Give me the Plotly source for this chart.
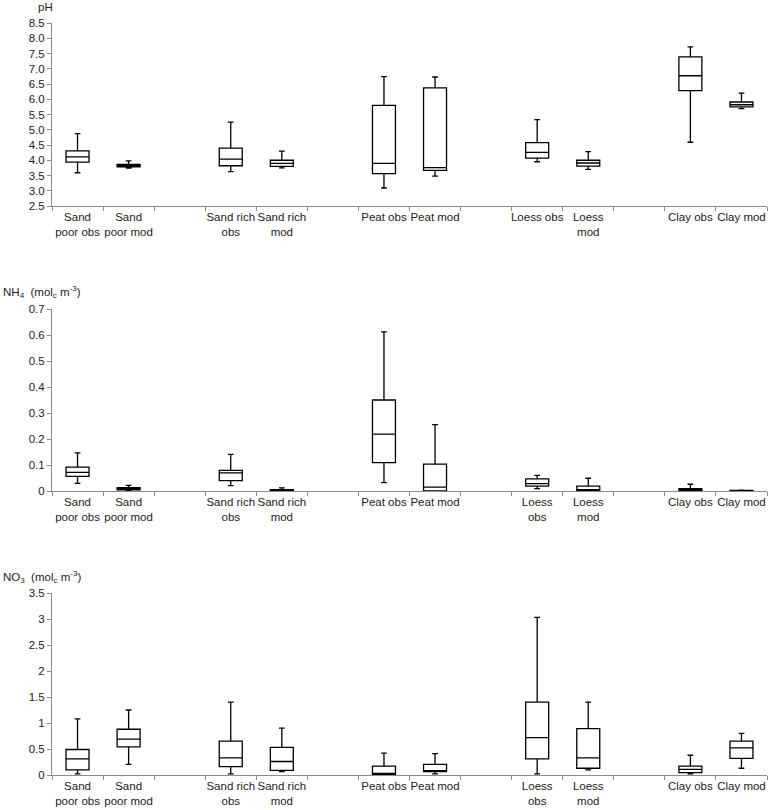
import plotly.graph_objects as go

# category slots (blank slots separate the soil groups)
categories = ["Sand<br>poor obs", "Sand<br>poor mod", " ",
              "Sand rich<br>obs", "Sand rich<br>mod", "  ",
              "Peat obs", "Peat mod", "   ",
              "Loess obs", "Loess<br>mod", "    ",
              "Clay obs", "Clay mod"]
boxes = ["Sand<br>poor obs", "Sand<br>poor mod", "Sand rich<br>obs", "Sand rich<br>mod",
         "Peat obs", "Peat mod", "Loess obs", "Loess<br>mod", "Clay obs", "Clay mod"]
# NH4 / NO3 panels use slightly different wrapping
boxes_nh4 = ["Sand<br>poor obs", "Sand<br>poor mod", "Sand rich<br>obs", "Sand rich<br>mod",
             "Peat obs", "Peat mod", "Loess<br>obs", "Loess<br>mod", "Clay obs", "Clay mod"]
categories_nh4 = ["Sand<br>poor obs", "Sand<br>poor mod", " ",
                  "Sand rich<br>obs", "Sand rich<br>mod", "  ",
                  "Peat obs", "Peat mod", "   ",
                  "Loess<br>obs", "Loess<br>mod", "    ",
                  "Clay obs", "Clay mod"]

# pH
ph_low = [3.59, 3.74, 3.63, 3.75, 3.09, 3.48, 3.95, 3.70, 4.59, 5.69]
ph_q1 = [3.94, 3.78, 3.82, 3.80, 3.56, 3.67, 4.07, 3.81, 6.28, 5.75]
ph_med = [4.11, 3.81, 4.04, 3.90, 3.90, 3.76, 4.26, 3.91, 6.77, 5.82]
ph_q3 = [4.31, 3.86, 4.40, 4.00, 5.80, 6.37, 4.58, 4.00, 7.39, 5.91]
ph_high = [4.87, 3.98, 5.25, 4.30, 6.74, 6.73, 5.33, 4.28, 7.72, 6.20]

# NH4
nh4_low = [0.029, 0.001, 0.021, 0.0, 0.032, 0.0, 0.009, 0.0, 0.0, 0.0]
nh4_q1 = [0.056, 0.004, 0.040, 0.001, 0.109, 0.0, 0.019, 0.001, 0.001, 0.0]
nh4_med = [0.072, 0.009, 0.070, 0.003, 0.219, 0.015, 0.028, 0.003, 0.004, 0.001]
nh4_q3 = [0.092, 0.013, 0.079, 0.005, 0.350, 0.103, 0.047, 0.019, 0.009, 0.002]
nh4_high = [0.147, 0.022, 0.141, 0.012, 0.612, 0.255, 0.060, 0.049, 0.026, 0.003]

# NO3
no3_low = [0.02, 0.205, 0.02, 0.065, 0.005, 0.02, 0.02, 0.10, 0.02, 0.13]
no3_q1 = [0.10, 0.54, 0.16, 0.09, 0.013, 0.064, 0.31, 0.13, 0.045, 0.32]
no3_med = [0.31, 0.69, 0.33, 0.26, 0.02, 0.077, 0.72, 0.33, 0.11, 0.52]
no3_q3 = [0.49, 0.88, 0.65, 0.53, 0.17, 0.205, 1.40, 0.89, 0.17, 0.65]
no3_high = [1.08, 1.25, 1.40, 0.90, 0.42, 0.41, 3.03, 1.40, 0.38, 0.80]

font = dict(family="Liberation Sans, Arial, sans-serif", size=11.5, color="#222")
axis_grey = "#8c8c8c"

# plot area in pixels: x 52..767, y 23..775
L, R, T, B = 52, 767, 23, 775

panels = [
    (boxes, categories, ph_low, ph_q1, ph_med, ph_q3, ph_high, [2.5, 8.5], 0.5, ".1f", (23, 206)),
    (boxes_nh4, categories_nh4, nh4_low, nh4_q1, nh4_med, nh4_q3, nh4_high, [0, 0.7], 0.1, "", (309, 491)),
    (boxes_nh4, categories_nh4, no3_low, no3_q1, no3_med, no3_q3, no3_high, [0, 3.5], 0.5, "", (593, 775)),
]

fig = go.Figure()
layout = {}
for i, (xs, cats, lo, q1, med, q3, hi, yr, dt, fmt, pix) in enumerate(panels):
    n = "" if i == 0 else str(i + 1)
    dom = [(B - pix[1]) / (B - T), (B - pix[0]) / (B - T)]
    fig.add_trace(go.Box(
        x=xs, lowerfence=lo, q1=q1, median=med, q3=q3, upperfence=hi,
        xaxis="x" + n, yaxis="y" + n,
        fillcolor="white", line=dict(color="black", width=1.3),
        width=0.45, whiskerwidth=0.25, boxpoints=False, showlegend=False,
        hoverinfo="skip"))
    layout["xaxis" + n] = dict(
        type="category", categoryorder="array", categoryarray=cats,
        range=[-0.5, 13.5], tickson="boundaries", ticks="outside", ticklen=4,
        tickcolor=axis_grey, showline=True, linecolor=axis_grey, linewidth=1,
        showgrid=False, zeroline=False, anchor="y" + n, tickangle=0,
        tickfont=font, fixedrange=True, automargin=False)
    layout["yaxis" + n] = dict(
        domain=dom, range=yr, dtick=dt, tick0=yr[0], tickformat=fmt,
        ticks="outside", ticklen=4, tickcolor=axis_grey, showline=True,
        linecolor=axis_grey, linewidth=1, showgrid=False, zeroline=False,
        anchor="x" + n, tickfont=font, fixedrange=True, automargin=False)

titles = [("pH", 37, 7),
          ("NH<sub>4</sub>  (mol<sub>c</sub> m<sup>-3</sup>)", 2, 292),
          ("NO<sub>3</sub>  (mol<sub>c</sub> m<sup>-3</sup>)", 2, 577)]
ann = [dict(text=t, xref="paper", yref="paper", showarrow=False,
            x=(px - L) / (R - L), y=(B - py) / (B - T),
            xanchor="left", yanchor="middle", font=font, borderpad=0)
       for t, px, py in titles]

fig.update_layout(**layout)
fig.update_layout(
    template="none",
    width=778, height=810,
    margin=dict(l=L, r=778 - R, t=T, b=810 - B),
    paper_bgcolor="white", plot_bgcolor="white",
    font=font,
    annotations=ann,
)

# drop the page's default body margin so the figure sits at the window corner
fig.write_html("out.html", config={"displayModeBar": False},
               post_script="document.body.style.margin='0';")
